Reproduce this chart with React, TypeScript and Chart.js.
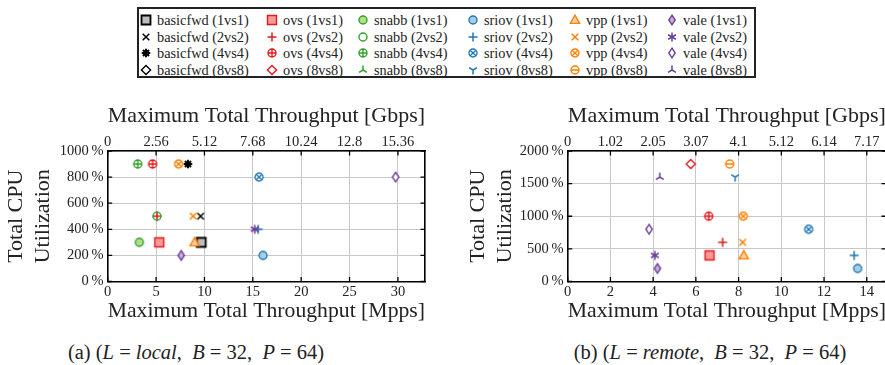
import React, { useEffect, useRef } from 'react';
import { Chart, registerables } from 'chart.js';
Chart.register(...registerables);

// ---------- data ----------
const systems = ['basicfwd', 'ovs', 'snabb', 'sriov', 'vpp', 'vale'];
const configs = ['1vs1', '2vs2', '4vs4', '8vs8'];

// (a) local: Mpps and CPU utilization (%) per system, one pair of arrays per config
const localMpps1vs1 = [9.67, 5.33, 3.27, 16.06, 8.98, 7.6];
const localCpu1vs1 = [300, 300, 300, 200, 300, 200];
const localMpps2vs2 = [9.6, 5.1, 5.09, 15.55, 8.84, 15.2];
const localCpu2vs2 = [500, 500, 500, 400, 500, 400];
const localMpps4vs4 = [8.29, 4.64, 3.1, 15.65, 7.33, 29.76];
const localCpu4vs4 = [900, 900, 900, 800, 900, 800];
const localMpps8vs8 = [null, null, null, null, null, null];
const localCpu8vs8 = [null, null, null, null, null, null];

// (b) remote
const remoteMpps1vs1 = [null, 6.64, null, 13.57, 8.24, 4.2];
const remoteCpu1vs1 = [null, 400, null, 200, 400, 200];
const remoteMpps2vs2 = [null, 7.25, null, 13.41, 8.19, 4.08];
const remoteCpu2vs2 = [null, 600, null, 400, 600, 400];
const remoteMpps4vs4 = [null, 6.6, null, 11.28, 8.22, 3.81];
const remoteCpu4vs4 = [null, 1000, null, 800, 1000, 800];
const remoteMpps8vs8 = [null, 5.76, null, 7.84, 7.58, 4.31];
const remoteCpu8vs8 = [null, 1800, null, 1600, 1800, 1600];

const gbpsPerMpps = 0.512;

// ---------- styles ----------
const FONT = '"Liberation Serif", "Times New Roman", serif';
const darkColors: Record<string, string> = {
  basicfwd: '#000000', ovs: '#e31a1c', snabb: '#33a02c', sriov: '#1f78b4', vpp: '#ff7f00', vale: '#6a3d9a',
};
const lightColors: Record<string, string> = {
  basicfwd: '#bdbdbd', ovs: '#fb9a99', snabb: '#b2df8a', sriov: '#a6cee3', vpp: '#fdd3a8', vale: '#cab2d6',
};
const shapes: Record<string, string[]> = {
  basicfwd: ['square', 'x', 'heavyStar', 'diamond'],
  ovs: ['square', 'plus', 'oplus', 'diamond'],
  snabb: ['circle', 'circleOpen', 'oplus', 'triDown'],
  sriov: ['circle', 'plus', 'otimes', 'triUp'],
  vpp: ['triangle', 'x', 'otimes', 'ominus'],
  vale: ['thinDiamond', 'asterisk', 'thinDiamondOpen', 'triDown'],
};

function drawMarker(g: CanvasRenderingContext2D, shape: string, stroke: string, fill: string, cx: number, cy: number) {
  g.save();
  g.translate(cx, cy);
  g.strokeStyle = stroke;
  g.fillStyle = fill;
  g.lineWidth = 1.4;
  g.lineJoin = 'miter';
  const line = (x1: number, y1: number, x2: number, y2: number) => { g.moveTo(x1, y1); g.lineTo(x2, y2); };
  const r = 4;
  g.beginPath();
  switch (shape) {
    case 'square':
      g.lineWidth = stroke === '#000000' ? 1.8 : 1.4;
      g.rect(-4.5, -4.5, 9, 9); g.fill(); g.stroke(); break;
    case 'circle':
      g.arc(0, 0, r, 0, Math.PI * 2); g.fill(); g.stroke(); break;
    case 'circleOpen':
      g.arc(0, 0, r, 0, Math.PI * 2); g.stroke(); break;
    case 'oplus':
      g.arc(0, 0, r, 0, Math.PI * 2); g.fillStyle = '#ffffff'; g.fill();
      line(-r, 0, r, 0); line(0, -r, 0, r); g.stroke(); break;
    case 'otimes': {
      g.arc(0, 0, r, 0, Math.PI * 2); g.fillStyle = '#ffffff'; g.fill();
      const d = r * Math.SQRT1_2;
      line(-d, -d, d, d); line(-d, d, d, -d); g.stroke(); break;
    }
    case 'ominus':
      g.arc(0, 0, r, 0, Math.PI * 2); g.fillStyle = '#ffffff'; g.fill();
      line(-r, 0, r, 0); g.stroke(); break;
    case 'plus':
      g.lineWidth = 1.5;
      line(-4.5, 0, 4.5, 0); line(0, -4.5, 0, 4.5); g.stroke(); break;
    case 'x':
      g.lineWidth = 1.5;
      line(-3.3, -3.3, 3.3, 3.3); line(-3.3, 3.3, 3.3, -3.3); g.stroke(); break;
    case 'triangle':
      g.moveTo(0, -4.8); g.lineTo(4.6, 3.4); g.lineTo(-4.6, 3.4); g.closePath(); g.fill(); g.stroke(); break;
    case 'diamond':
      g.moveTo(0, -4.6); g.lineTo(4.6, 0); g.lineTo(0, 4.6); g.lineTo(-4.6, 0); g.closePath();
      g.fillStyle = '#ffffff'; g.fill(); g.stroke(); break;
    case 'thinDiamond':
      g.moveTo(0, -4.8); g.lineTo(3.2, 0); g.lineTo(0, 4.8); g.lineTo(-3.2, 0); g.closePath(); g.fill(); g.stroke(); break;
    case 'thinDiamondOpen':
      g.moveTo(0, -4.8); g.lineTo(3.2, 0); g.lineTo(0, 4.8); g.lineTo(-3.2, 0); g.closePath();
      g.fillStyle = '#ffffff'; g.fill(); g.stroke(); break;
    case 'asterisk':
      g.lineWidth = 1.5;
      for (let k = 0; k < 3; k++) {
        const a = Math.PI / 2 + (k * Math.PI) / 3;
        line(-4.5 * Math.cos(a), -4.5 * Math.sin(a), 4.5 * Math.cos(a), 4.5 * Math.sin(a));
      }
      g.stroke(); break;
    case 'heavyStar':
      g.lineWidth = 2;
      for (let k = 0; k < 4; k++) {
        const a = (k * Math.PI) / 4;
        line(-4.3 * Math.cos(a), -4.3 * Math.sin(a), 4.3 * Math.cos(a), 4.3 * Math.sin(a));
      }
      g.stroke();
      g.beginPath(); g.arc(0, 0, 2.6, 0, Math.PI * 2); g.fillStyle = stroke; g.fill(); break;
    case 'triDown': // stem up, legs down
      g.lineWidth = 1.5;
      line(0, 0, 0, -4.5); line(0, 0, 3.9, 2.3); line(0, 0, -3.9, 2.3); g.stroke(); break;
    case 'triUp': // stem down, arms up
      g.lineWidth = 1.5;
      line(0, 0, 0, 4.5); line(0, 0, 3.9, -2.3); line(0, 0, -3.9, -2.3); g.stroke(); break;
  }
  g.restore();
}

const markerCache: Record<string, HTMLCanvasElement> = {};
function markerCanvas(sys: string, ci: number): HTMLCanvasElement {
  const key = sys + ci;
  if (markerCache[key]) return markerCache[key];
  const c = document.createElement('canvas');
  c.width = 16; c.height = 16;
  const g = c.getContext('2d')!;
  drawMarker(g, shapes[sys][ci], darkColors[sys], lightColors[sys], 8, 8);
  markerCache[key] = c;
  return c;
}

const fmt = (v: number) => String(Math.round(v * 100) / 100);

const innerTicks = {
  id: 'innerTicks',
  beforeDatasetsDraw(chart: any) {
    const { ctx, chartArea: a } = chart;
    const xs = chart.scales.x;
    const ys = chart.scales.y;
    ctx.save();
    ctx.strokeStyle = '#000';
    ctx.lineWidth = 1.3;
    ctx.beginPath();
    xs.ticks.forEach((t: any) => {
      const p = xs.getPixelForValue(t.value);
      ctx.moveTo(p, a.bottom); ctx.lineTo(p, a.bottom - 4.5);
      ctx.moveTo(p, a.top); ctx.lineTo(p, a.top + 4.5);
    });
    ys.ticks.forEach((t: any) => {
      const p = ys.getPixelForValue(t.value);
      ctx.moveTo(a.left, p); ctx.lineTo(a.left + 4.5, p);
      ctx.moveTo(a.right, p); ctx.lineTo(a.right - 4.5, p);
    });
    ctx.stroke();
    ctx.restore();
  },
};

type PanelCfg = {
  mpps: (number | null)[][];
  cpu: (number | null)[][];
  xMax: number; xStep: number; yMax: number; yStep: number;
  yWidth: number; y2Width: number; yTitlePad: number;
};

function buildDatasets(mpps: (number | null)[][], cpu: (number | null)[][]) {
  const ds: any[] = [];
  configs.forEach((cfg, ci) => {
    systems.forEach((sys, si) => {
      const x = mpps[ci][si];
      const y = cpu[ci][si];
      if (x == null || y == null) return;
      ds.push({
        label: `${sys} (${cfg})`,
        data: [{ x, y }],
        pointStyle: markerCanvas(sys, ci),
        pointRadius: 5,
        borderColor: darkColors[sys],
        backgroundColor: lightColors[sys],
      });
    });
  });
  return ds.reverse();
}

const titleFont = { family: FONT, size: 22, lineHeight: 1.2 };
const tickFont = { family: FONT, size: 14.5, lineHeight: 1.2 };
const border = { display: true, color: '#000', width: 1.6 };

function Panel({ cfg, left, width }: { cfg: PanelCfg; left: number; width: number }) {
  const ref = useRef<HTMLCanvasElement>(null);
  useEffect(() => {
    const chart = new Chart(ref.current!, {
      type: 'scatter',
      data: { datasets: buildDatasets(cfg.mpps, cfg.cpu) },
      options: {
        animation: false,
        responsive: false,
        maintainAspectRatio: false,
        events: [],
        layout: { padding: 0 },
        plugins: { legend: { display: false }, tooltip: { enabled: false } },
        scales: {
          x: {
            type: 'linear', position: 'bottom', min: 0, max: cfg.xMax,
            ticks: { stepSize: cfg.xStep, includeBounds: false, font: tickFont, color: '#222', padding: 1.5, maxRotation: 0, autoSkip: false, callback: (v: any) => String(v) },
            grid: { color: '#c8c8c8', lineWidth: 1, drawTicks: false },
            border,
            title: { display: true, text: 'Maximum Total Throughput [Mpps]', font: titleFont, color: '#222', padding: { top: 0, bottom: 0.8 } },
            afterFit: (s: any) => { s.height = 43.5; },
          },
          x2: {
            type: 'linear', position: 'top', min: 0, max: cfg.xMax,
            ticks: { stepSize: cfg.xStep, includeBounds: false, font: tickFont, color: '#222', padding: 0, maxRotation: 0, autoSkip: false, callback: (v: any) => fmt(v * gbpsPerMpps) },
            grid: { display: false, drawTicks: false },
            border,
            title: { display: true, text: 'Maximum Total Throughput [Gbps]', font: titleFont, color: '#222', padding: { top: 8.3, bottom: 0 } },
            afterFit: (s: any) => { s.height = 56; },
          },
          y: {
            type: 'linear', position: 'left', min: 0, max: cfg.yMax,
            ticks: { stepSize: cfg.yStep, includeBounds: false, font: tickFont, color: '#222', padding: 4, callback: (v: any) => `${v}\u2009%` },
            grid: { color: '#c8c8c8', lineWidth: 1, drawTicks: false },
            border,
            title: { display: true, text: ['Total CPU', 'Utilization'], font: { family: FONT, size: 22, lineHeight: 27 / 22 }, color: '#222', padding: { top: cfg.yTitlePad, bottom: 0 } },
            afterFit: (s: any) => { s.width = cfg.yWidth; },
          },
          y2: {
            type: 'linear', position: 'right', min: 0, max: cfg.yMax, display: true,
            ticks: { display: false },
            grid: { display: false, drawTicks: false },
            border,
            afterFit: (s: any) => { s.width = cfg.y2Width; },
          },
        },
      } as any,
      plugins: [innerTicks],
    });
    return () => chart.destroy();
  }, []);
  return (
    <div style={{ position: 'absolute', left, top: 95, width, height: 230 }}>
      <canvas ref={ref} width={width} height={230} style={{ display: 'block' }} />
    </div>
  );
}

function LegendMarker({ sys, ci }: { sys: string; ci: number }) {
  const ref = useRef<HTMLCanvasElement>(null);
  useEffect(() => {
    const g = ref.current!.getContext('2d')!;
    g.clearRect(0, 0, 16, 16);
    g.drawImage(markerCanvas(sys, ci), 0, 0);
  }, []);
  return <canvas ref={ref} width={16} height={16} style={{ display: 'block' }} />;
}

const legendColX = [146, 272, 363, 473, 575, 672];
const legendRowY = [19.5, 36.5, 53, 70];

function Legend() {
  return (
    <div style={{ position: 'absolute', left: 137, top: 7, width: 619, height: 71, boxSizing: 'border-box', border: '2px solid #222' }}>
      {configs.map((cfg, ci) =>
        systems.map((sys, si) => (
          <React.Fragment key={sys + cfg}>
            <div style={{ position: 'absolute', left: legendColX[si] - 8 - 139, top: legendRowY[ci] - 8 - 9 }}>
              <LegendMarker sys={sys} ci={ci} />
            </div>
            <div style={{ position: 'absolute', left: legendColX[si] + 11 - 139, top: legendRowY[ci] - 8 - 9, height: 16, lineHeight: '16px', fontSize: 14.3, whiteSpace: 'nowrap', color: '#222' }}>
              {`${sys} (${cfg})`}
            </div>
          </React.Fragment>
        ))
      )}
    </div>
  );
}

const localCfg: PanelCfg = {
  mpps: [localMpps1vs1, localMpps2vs2, localMpps4vs4, localMpps8vs8],
  cpu: [localCpu1vs1, localCpu2vs2, localCpu4vs4, localCpu8vs8],
  xMax: 32.8, xStep: 5, yMax: 1000, yStep: 200,
  yWidth: 107.7, y2Width: 15, yTitlePad: 3,
};
const remoteCfg: PanelCfg = {
  mpps: [remoteMpps1vs1, remoteMpps2vs2, remoteMpps4vs4, remoteMpps8vs8],
  cpu: [remoteCpu1vs1, remoteCpu2vs2, remoteCpu4vs4, remoteCpu8vs8],
  xMax: 14.9, xStep: 2, yMax: 2000, yStep: 500,
  yWidth: 127.7, y2Width: 14, yTitlePad: 25,
};

const sp = '\u00a0';

export default function App() {
  return (
    <div style={{ position: 'absolute', left: 0, top: 0, width: 885, height: 365, overflow: 'hidden', background: '#fff', fontFamily: FONT, color: '#222' }}>
      <Legend />
      <Panel cfg={localCfg} left={0} width={440} />
      <Panel cfg={remoteCfg} left={440} width={460} />
      <div style={{ position: 'absolute', left: 46, width: 300, top: 340, lineHeight: '24px', fontSize: 20.5, textAlign: 'center', whiteSpace: 'nowrap' }}>
        (a) (<i>L</i>{sp}={sp}<i>local</i>,{sp}{sp}<i>B</i>{sp}={sp}32,{sp}{sp}<i>P</i>{sp}={sp}64)
      </div>
      <div style={{ position: 'absolute', left: 560, width: 300, top: 340, lineHeight: '24px', fontSize: 20.5, textAlign: 'center', whiteSpace: 'nowrap' }}>
        (b) (<i>L</i>{sp}={sp}<i>remote</i>,{sp}{sp}<i>B</i>{sp}={sp}32,{sp}{sp}<i>P</i>{sp}={sp}64)
      </div>
    </div>
  );
}
